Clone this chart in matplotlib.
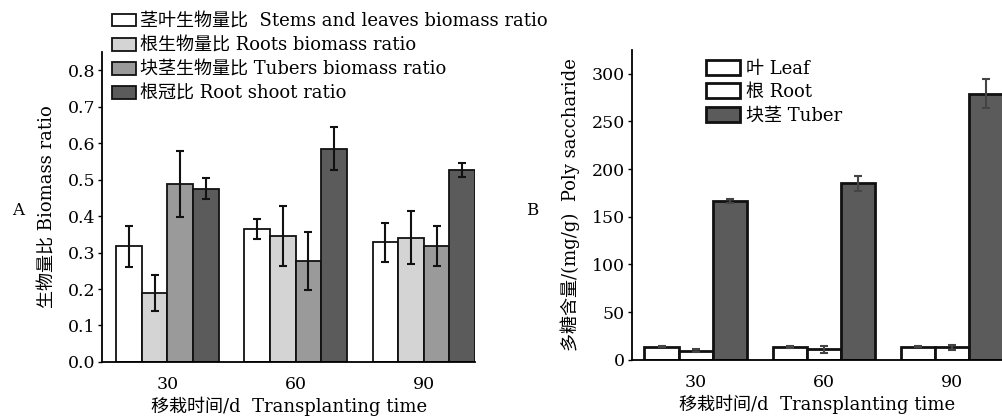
import numpy as np
import matplotlib
matplotlib.use("Agg")
import matplotlib.pyplot as plt

plt.rcParams['font.family'] = ['DejaVu Serif', 'Noto Sans CJK SC']
plt.rcParams['axes.unicode_minus'] = False

# ---- data ----
days = ['30', '60', '90']

ratio_labels = ['茎叶生物量比  Stems and leaves biomass ratio',
                '根生物量比 Roots biomass ratio',
                '块茎生物量比 Tubers biomass ratio',
                '根冠比 Root shoot ratio']
stem_leaf = [0.317, 0.364, 0.328]
stem_leaf_err = [0.057, 0.028, 0.053]
roots = [0.189, 0.346, 0.341]
roots_err = [0.050, 0.082, 0.072]
tubers = [0.488, 0.277, 0.318]
tubers_err = [0.091, 0.079, 0.054]
root_shoot = [0.475, 0.585, 0.526]
root_shoot_err = [0.028, 0.060, 0.020]

poly_labels = ['叶 Leaf', '根 Root', '块茎 Tuber']
leaf_poly = [14.0, 13.3, 14.0]
leaf_poly_err = [1.0, 1.0, 0.8]
root_poly = [9.4, 11.2, 13.3]
root_poly_err = [1.5, 3.5, 2.5]
tuber_poly = [166.8, 185.0, 279.0]
tuber_poly_err = [2.0, 7.7, 15.0]

fig = plt.figure(figsize=(10.03, 4.18), dpi=100)
fs = 13
tfs = 12.5
x = np.arange(len(days))

# ---- panel A ----
axA = fig.add_axes([0.1017, 0.134, 0.372, 0.742])
series = [stem_leaf, roots, tubers, root_shoot]
errs = [stem_leaf_err, roots_err, tubers_err, root_shoot_err]
colorsA = ['white', '#d4d4d4', '#9a9a9a', '#5b5b5b']
w = 0.2
for i, (vals, e, c, lab) in enumerate(zip(series, errs, colorsA, ratio_labels)):
    axA.bar(x + (i - 1.5) * w, vals, w, color=c, edgecolor='#111111', linewidth=1.3,
            label=lab, yerr=e, capsize=3,
            error_kw=dict(ecolor='#111111', elinewidth=1.5, capthick=1.5))
axA.set_xlim(-0.51, 2.4)
axA.set_ylim(0, 0.85)
axA.set_yticks(np.arange(0, 0.81, 0.1))
axA.set_yticklabels([f'{v:.1f}' for v in np.arange(0, 0.81, 0.1)], fontsize=tfs)
axA.set_xticks(x)
axA.set_xticklabels(days, fontsize=tfs)
axA.tick_params(axis='x', length=0, pad=10)
axA.tick_params(axis='y', direction='out', length=3, width=1, pad=2)
for s in ['top', 'right']:
    axA.spines[s].set_visible(False)
for s in ['left', 'bottom']:
    axA.spines[s].set_linewidth(1.3)
axA.set_ylabel('生物量比 Biomass ratio', fontsize=fs, labelpad=8)
axA.set_xlabel('移栽时间/d  Transplanting time', fontsize=fs, labelpad=3)
fig.text(0.012, 0.497, 'A', fontsize=fs - 1, va='center', ha='left')
axA.legend(loc='upper left', bbox_to_anchor=(0.1117, 0.97), bbox_transform=fig.transFigure,
           frameon=False, fontsize=fs, handlelength=1.3, handleheight=0.68,
           handletextpad=0.25, labelspacing=0.34, borderpad=0, borderaxespad=0)

# ---- panel B ----
axB = fig.add_axes([0.6298, 0.139, 0.3702, 0.742])
seriesB = [leaf_poly, root_poly, tuber_poly]
errsB = [leaf_poly_err, root_poly_err, tuber_poly_err]
colorsB = ['white', 'white', '#5b5b5b']
wb = 0.8 / 3
for i, (vals, e, c, lab) in enumerate(zip(seriesB, errsB, colorsB, poly_labels)):
    axB.bar(x + (i - 1) * wb, vals, wb, color=c, edgecolor='#111111', linewidth=2,
            label=lab, yerr=e, capsize=3,
            error_kw=dict(ecolor='#444444', elinewidth=1.5, capthick=1.5))
axB.set_xlim(-0.5, 2.4)
axB.set_ylim(0, 325)
axB.set_yticks(np.arange(0, 301, 50))
axB.set_yticklabels([str(v) for v in range(0, 301, 50)], fontsize=tfs)
axB.set_xticks(x)
axB.set_xticklabels(days, fontsize=tfs)
axB.tick_params(axis='x', length=0, pad=10)
axB.tick_params(axis='y', direction='out', length=3, width=1, pad=2)
for s in ['top', 'right']:
    axB.spines[s].set_visible(False)
for s in ['left', 'bottom']:
    axB.spines[s].set_linewidth(1.3)
axB.set_ylabel('多糖含量/(mg/g)  Poly saccharide', fontsize=fs, labelpad=8)
axB.set_xlabel('移栽时间/d  Transplanting time', fontsize=fs, labelpad=3)
fig.text(0.524, 0.497, 'B', fontsize=fs - 1, va='center', ha='left')
axB.legend(loc='upper left', bbox_to_anchor=(0.704, 0.857), bbox_transform=fig.transFigure,
           frameon=False, fontsize=fs, handlelength=1.85, handleheight=0.9,
           handletextpad=0.35, labelspacing=0.3, borderpad=0, borderaxespad=0)

fig.savefig('out.png', dpi=100)
